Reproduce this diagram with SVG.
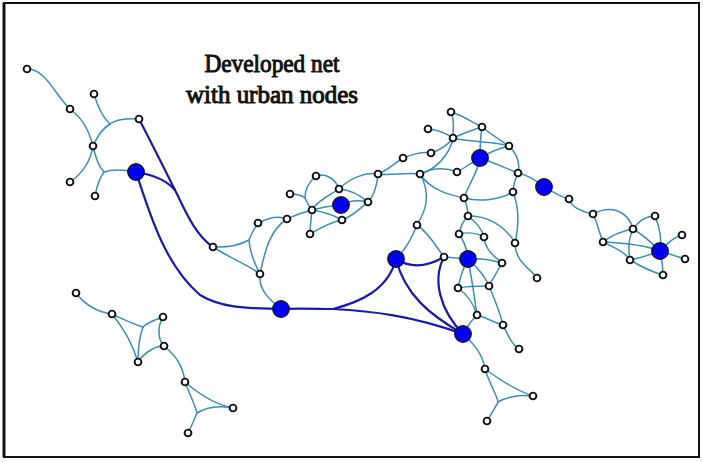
<svg xmlns="http://www.w3.org/2000/svg" width="703" height="462" viewBox="0 0 703 462">
<style>
.frame{fill:#fff;stroke:#111;stroke-width:2}
.l{fill:none;stroke:#3a8fb5;stroke-width:1.5;stroke-linecap:round}
.d{fill:none;stroke:#1a1aa6;stroke-width:2.2;stroke-linecap:round}
.n{fill:#fff;stroke:#111;stroke-width:1.9}
.u{fill:#0000f0;stroke:#111;stroke-width:1.2}
.t{font-family:"Liberation Serif",serif;font-size:25px;fill:#111;stroke:#111;stroke-width:1;paint-order:stroke;text-anchor:middle}
</style>
<rect class="frame" x="4" y="3" width="695" height="454"/>
<line x1="4" y1="3" x2="4" y2="457" stroke="#111" stroke-width="3"/>
<g id="title">
<text class="t" x="272" y="72" textLength="135" lengthAdjust="spacingAndGlyphs">Developed net</text>
<text class="t" x="272" y="103" textLength="172" lengthAdjust="spacingAndGlyphs">with urban nodes</text>
</g>
<g id="connectors">
<path class="l" d="M27,69 C45,68 55,95 70,109"/>
<path class="l" d="M70,109 C85,120 90,135 93,146"/>
<path class="l" d="M94,94 Q100,115 110,124"/>
<path class="l" d="M139,119 Q118,118 110,124"/>
<path class="l" d="M93,146 Q100,130 110,124"/>
<path class="l" d="M93,146 Q97,165 104,172"/>
<path class="l" d="M136,172 Q115,168 104,172"/>
<path class="l" d="M95,196 Q98,180 104,172"/>
<path class="l" d="M93,146 C90,165 80,175 70,182"/>
<path class="d" d="M139,119 C150,140 165,170 175,190"/>
<path class="d" d="M136,172 C155,175 168,182 175,190"/>
<path class="d" d="M175,190 C185,210 195,235 213,247"/>
<path class="d" d="M136,172 C150,215 165,265 200,295 C225,310 255,308 281,309"/>
<path class="l" d="M213,247 Q235,248 249,240"/>
<path class="l" d="M258,223 Q252,232 249,240"/>
<path class="l" d="M260,274 Q250,255 249,240"/>
<path class="l" d="M213,247 C230,258 248,265 260,274"/>
<path class="l" d="M260,274 C265,250 270,230 287,219"/>
<path class="l" d="M258,223 C268,218 278,215 287,219"/>
<path class="l" d="M260,274 C258,290 270,300 281,309"/>
<path class="l" d="M287,219 C295,215 305,212 312,210"/>
<path class="l" d="M290,194 Q300,194 305,198"/>
<path class="l" d="M316,176 Q305,185 305,198"/>
<path class="l" d="M305,198 Q308,205 312,210"/>
<path class="l" d="M316,176 C325,173 335,178 339,189"/>
<path class="l" d="M339,189 C330,195 318,200 312,210"/>
<path class="l" d="M312,210 Q326,206 341,205"/>
<path class="l" d="M312,210 C325,212 335,216 342,220"/>
<path class="l" d="M312,210 C311,220 310,228 310,234"/>
<path class="l" d="M310,234 C320,228 332,222 342,220"/>
<path class="l" d="M341,205 C350,200 360,200 368,202"/>
<path class="l" d="M342,220 C355,215 360,208 368,202"/>
<path class="l" d="M339,189 C350,190 360,195 368,202"/>
<path class="l" d="M339,189 C350,178 365,172 378,174"/>
<path class="l" d="M368,202 C375,195 377,185 378,174"/>
<path class="l" d="M378,174 C388,170 395,163 403,158"/>
<path class="l" d="M378,174 C392,176 405,172 420,174"/>
<path class="l" d="M451,112 C455,120 453,130 453,138"/>
<path class="l" d="M451,112 C462,115 472,122 482,127"/>
<path class="l" d="M428,129 C438,130 446,133 453,138"/>
<path class="l" d="M482,127 C472,130 462,134 453,138"/>
<path class="l" d="M453,138 C475,143 495,141 509,146"/>
<path class="l" d="M482,127 C492,135 500,140 509,146"/>
<path class="l" d="M482,127 C480,140 480,148 480,158"/>
<path class="l" d="M480,158 C490,152 500,148 509,146"/>
<path class="l" d="M403,158 C413,154 422,151 431,153"/>
<path class="l" d="M431,153 C440,150 448,145 453,138"/>
<path class="l" d="M453,138 C450,155 435,170 420,174"/>
<path class="l" d="M420,174 C432,168 445,167 457,172"/>
<path class="l" d="M457,172 C465,168 472,162 480,158"/>
<path class="l" d="M480,158 C495,163 505,168 518,173"/>
<path class="l" d="M509,146 C518,155 520,165 518,173"/>
<path class="l" d="M518,173 C528,175 535,180 544,187"/>
<path class="l" d="M518,173 C515,180 513,186 513,192"/>
<path class="l" d="M480,158 C477,175 468,185 464,198"/>
<path class="l" d="M420,174 C430,190 450,195 464,198"/>
<path class="l" d="M464,198 C480,202 500,200 513,192"/>
<path class="l" d="M464,198 C467,205 468,210 468,216"/>
<path class="l" d="M420,174 C432,195 425,212 417,225"/>
<path class="l" d="M417,225 C412,238 405,250 396,259"/>
<path class="l" d="M444,257 C435,245 428,232 417,225"/>
<path class="l" d="M468,216 C475,222 482,228 484,237"/>
<path class="l" d="M468,216 C485,215 505,225 515,243"/>
<path class="l" d="M468,216 C462,222 460,228 459,234"/>
<path class="l" d="M459,234 C467,232 477,233 484,237"/>
<path class="l" d="M513,192 C520,210 518,230 515,243"/>
<path class="l" d="M459,234 C465,242 467,250 468,259"/>
<path class="l" d="M484,237 C485,250 495,257 502,263"/>
<path class="l" d="M515,243 C515,262 530,268 537,278"/>
<path class="l" d="M444,257 L468,259"/>
<path class="l" d="M468,259 C480,258 492,260 502,263"/>
<path class="l" d="M468,259 C463,268 460,278 458,288"/>
<path class="l" d="M468,259 C478,268 485,276 489,286"/>
<path class="l" d="M468,259 C472,280 475,300 477,315"/>
<path class="l" d="M458,288 C468,286 480,286 489,286"/>
<path class="l" d="M502,263 C497,272 492,280 489,286"/>
<path class="l" d="M458,288 C468,295 474,305 477,315"/>
<path class="l" d="M489,286 C495,300 500,312 503,325"/>
<path class="l" d="M477,315 C487,318 495,323 503,325"/>
<path class="l" d="M503,325 C508,335 512,345 519,349"/>
<path class="l" d="M463,334 C468,325 472,320 477,315"/>
<path class="l" d="M463,334 C475,345 483,355 485,369"/>
<path class="l" d="M485,369 C490,385 497,395 498,402"/>
<path class="l" d="M533,396 C518,394 505,398 498,402"/>
<path class="l" d="M487,421 C492,412 496,407 498,402"/>
<path class="l" d="M485,369 C500,380 515,390 533,396"/>
<path class="d" d="M281,309 C300,308 320,309 333,309"/>
<path class="d" d="M333,309 C360,302 388,290 396,259"/>
<path class="d" d="M333,309 C370,311 410,315 463,334"/>
<path class="d" d="M396,259 C410,268 425,268 444,257"/>
<path class="d" d="M396,259 C405,295 430,315 463,334"/>
<path class="d" d="M444,257 C432,280 440,310 463,334"/>
<path class="l" d="M544,187 C555,193 562,198 569,199"/>
<path class="l" d="M569,199 C572,208 583,212 593,214"/>
<path class="l" d="M593,214 C610,205 628,210 633,229"/>
<path class="l" d="M593,214 C598,225 600,235 603,242"/>
<path class="l" d="M603,242 C612,235 622,231 633,229"/>
<path class="l" d="M603,242 C625,243 645,245 660,251"/>
<path class="l" d="M603,242 C615,248 625,252 630,260"/>
<path class="l" d="M633,229 C638,222 645,216 655,216"/>
<path class="l" d="M633,229 C645,236 652,243 660,251"/>
<path class="l" d="M633,229 C628,240 628,250 630,260"/>
<path class="l" d="M655,216 C660,228 662,240 660,251"/>
<path class="l" d="M660,251 C668,242 675,237 682,235"/>
<path class="l" d="M660,251 L685,259"/>
<path class="l" d="M660,251 C662,260 663,268 663,275"/>
<path class="l" d="M630,260 C640,258 650,255 660,251"/>
<path class="l" d="M630,260 C640,266 652,272 663,275"/>
<path class="l" d="M76,293 C85,305 98,312 112,314"/>
<path class="l" d="M112,314 C125,320 135,325 143,327"/>
<path class="l" d="M163,317 C155,320 148,322 143,327"/>
<path class="l" d="M138,362 C138,348 140,335 143,327"/>
<path class="l" d="M112,314 C125,330 133,345 138,362"/>
<path class="l" d="M138,362 C145,352 155,346 164,346"/>
<path class="l" d="M163,317 C157,327 158,340 164,346"/>
<path class="l" d="M164,346 C175,355 183,365 185,382"/>
<path class="l" d="M185,382 C190,395 195,405 197,413"/>
<path class="l" d="M233,408 C218,405 205,408 197,413"/>
<path class="l" d="M188,433 C192,425 195,418 197,413"/>
<path class="l" d="M185,382 C200,395 218,405 233,408"/>
</g>
<g id="nodes">
<g id="w1"><circle class="n" cx="27" cy="69" r="3.4"/></g>
<g id="w2"><circle class="n" cx="70" cy="109" r="3.4"/></g>
<g id="w3"><circle class="n" cx="94" cy="94" r="3.4"/></g>
<g id="w4"><circle class="n" cx="139" cy="119" r="3.4"/></g>
<g id="w5"><circle class="n" cx="93" cy="146" r="3.4"/></g>
<g id="w6"><circle class="n" cx="70" cy="182" r="3.4"/></g>
<g id="w7"><circle class="n" cx="95" cy="196" r="3.4"/></g>
<g id="U1"><circle class="u" cx="136" cy="172" r="8.3"/></g>
<g id="m1"><circle class="n" cx="213" cy="247" r="3.4"/></g>
<g id="m2"><circle class="n" cx="258" cy="223" r="3.4"/></g>
<g id="m3"><circle class="n" cx="287" cy="219" r="3.4"/></g>
<g id="m4"><circle class="n" cx="260" cy="274" r="3.4"/></g>
<g id="U2"><circle class="u" cx="281" cy="309" r="8.3"/></g>
<g id="m5"><circle class="n" cx="316" cy="176" r="3.4"/></g>
<g id="m6"><circle class="n" cx="290" cy="194" r="3.4"/></g>
<g id="m7"><circle class="n" cx="339" cy="189" r="3.4"/></g>
<g id="U3"><circle class="u" cx="341" cy="205" r="8.3"/></g>
<g id="m8"><circle class="n" cx="312" cy="210" r="3.4"/></g>
<g id="m9"><circle class="n" cx="342" cy="220" r="3.4"/></g>
<g id="m10"><circle class="n" cx="310" cy="234" r="3.4"/></g>
<g id="m11"><circle class="n" cx="368" cy="202" r="3.4"/></g>
<g id="m12"><circle class="n" cx="378" cy="174" r="3.4"/></g>
<g id="A1"><circle class="n" cx="451" cy="112" r="3.4"/></g>
<g id="A2"><circle class="n" cx="428" cy="129" r="3.4"/></g>
<g id="A3"><circle class="n" cx="482" cy="127" r="3.4"/></g>
<g id="A4"><circle class="n" cx="453" cy="138" r="3.4"/></g>
<g id="A5"><circle class="n" cx="509" cy="146" r="3.4"/></g>
<g id="A6"><circle class="n" cx="431" cy="153" r="3.4"/></g>
<g id="U4"><circle class="u" cx="480" cy="158" r="8.3"/></g>
<g id="A7"><circle class="n" cx="403" cy="158" r="3.4"/></g>
<g id="A8"><circle class="n" cx="420" cy="174" r="3.4"/></g>
<g id="A9"><circle class="n" cx="457" cy="172" r="3.4"/></g>
<g id="A10"><circle class="n" cx="518" cy="173" r="3.4"/></g>
<g id="U5"><circle class="u" cx="544" cy="187" r="8.3"/></g>
<g id="A11"><circle class="n" cx="513" cy="192" r="3.4"/></g>
<g id="A12"><circle class="n" cx="464" cy="198" r="3.4"/></g>
<g id="A13"><circle class="n" cx="468" cy="216" r="3.4"/></g>
<g id="A14"><circle class="n" cx="417" cy="225" r="3.4"/></g>
<g id="A15"><circle class="n" cx="459" cy="234" r="3.4"/></g>
<g id="A16"><circle class="n" cx="484" cy="237" r="3.4"/></g>
<g id="A17"><circle class="n" cx="515" cy="243" r="3.4"/></g>
<g id="U6"><circle class="u" cx="396" cy="259" r="8.3"/></g>
<g id="s1"><circle class="n" cx="444" cy="257" r="3.4"/></g>
<g id="U7"><circle class="u" cx="468" cy="259" r="8.3"/></g>
<g id="s2"><circle class="n" cx="502" cy="263" r="3.4"/></g>
<g id="s3"><circle class="n" cx="537" cy="278" r="3.4"/></g>
<g id="s4"><circle class="n" cx="458" cy="288" r="3.4"/></g>
<g id="s5"><circle class="n" cx="489" cy="286" r="3.4"/></g>
<g id="s6"><circle class="n" cx="477" cy="315" r="3.4"/></g>
<g id="s7"><circle class="n" cx="503" cy="325" r="3.4"/></g>
<g id="U8"><circle class="u" cx="463" cy="334" r="8.3"/></g>
<g id="s8"><circle class="n" cx="519" cy="349" r="3.4"/></g>
<g id="s9"><circle class="n" cx="485" cy="369" r="3.4"/></g>
<g id="s10"><circle class="n" cx="533" cy="396" r="3.4"/></g>
<g id="s11"><circle class="n" cx="487" cy="421" r="3.4"/></g>
<g id="e1"><circle class="n" cx="569" cy="199" r="3.4"/></g>
<g id="e2"><circle class="n" cx="593" cy="214" r="3.4"/></g>
<g id="e3"><circle class="n" cx="655" cy="216" r="3.4"/></g>
<g id="e4"><circle class="n" cx="633" cy="229" r="3.4"/></g>
<g id="e5"><circle class="n" cx="682" cy="235" r="3.4"/></g>
<g id="e6"><circle class="n" cx="603" cy="242" r="3.4"/></g>
<g id="U9"><circle class="u" cx="660" cy="251" r="8.3"/></g>
<g id="e7"><circle class="n" cx="685" cy="259" r="3.4"/></g>
<g id="e8"><circle class="n" cx="630" cy="260" r="3.4"/></g>
<g id="e9"><circle class="n" cx="663" cy="275" r="3.4"/></g>
<g id="q1"><circle class="n" cx="76" cy="293" r="3.4"/></g>
<g id="q2"><circle class="n" cx="112" cy="314" r="3.4"/></g>
<g id="q3"><circle class="n" cx="163" cy="317" r="3.4"/></g>
<g id="q4"><circle class="n" cx="164" cy="346" r="3.4"/></g>
<g id="q5"><circle class="n" cx="138" cy="362" r="3.4"/></g>
<g id="q6"><circle class="n" cx="185" cy="382" r="3.4"/></g>
<g id="q7"><circle class="n" cx="233" cy="408" r="3.4"/></g>
<g id="q8"><circle class="n" cx="188" cy="433" r="3.4"/></g>
</g>
</svg>
